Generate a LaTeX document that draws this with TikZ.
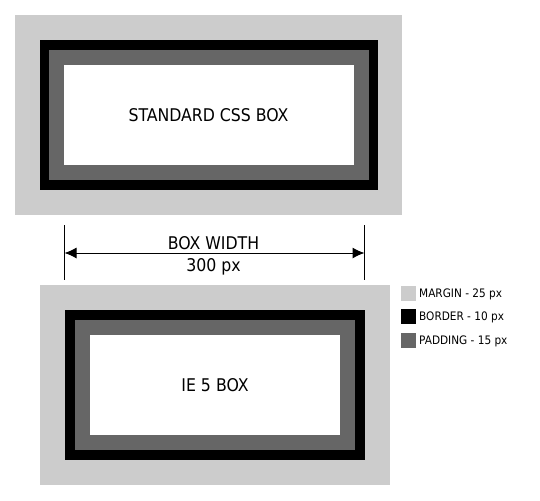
\documentclass[tikz,border=0pt]{standalone}
\usepackage{fontspec}
\setmainfont{DejaVu Sans Condensed}
\usepackage{xcolor}
\usepackage{tikz}
\usetikzlibrary{arrows.meta,positioning}
\definecolor{margingray}{RGB}{204,204,204}
\definecolor{paddinggray}{RGB}{102,102,102}
\tikzset{
  layer/.style={
    rectangle,
    inner sep=0pt,
    outer sep=0pt
  },
  marginbox/.style={layer, fill=margingray},
  borderbox/.style={layer, fill=black},
  paddingbox/.style={layer, fill=paddinggray},
  contentbox/.style={layer, fill=white, font=\fontsize{17.5}{20}\selectfont},
  swatch/.style={layer, minimum width=15pt, minimum height=15pt},
  legtext/.style={
    inner sep=0pt,
    font=\fontsize{11.7}{14}\selectfont,
    text height=8.5pt,
    text depth=0pt
  },
  dimlabel/.style={inner sep=0pt, anchor=base, font=\fontsize{17.5}{20}\selectfont},
  extline/.style={line width=1pt},
  dimarrow/.style={{Latex[length=12pt,width=11pt]}-{Latex[length=12pt,width=11pt]}, line width=1pt}
}
\begin{document}
\begin{tikzpicture}[x=1pt, y=-1pt, node distance=3pt]
  \useasboundingbox (0,0) rectangle (540,500);

  % standard box
  \node[marginbox, minimum width=387pt, minimum height=200pt] (sm) at (208.5,115) {};
  \node[borderbox, minimum width=338pt, minimum height=150pt] (sb) at (sm.center) {};
  \node[paddingbox, minimum width=320pt, minimum height=130pt] (sp) at (sm.center) {};
  \node[contentbox, minimum width=290pt, minimum height=100pt] (sc) at (sm.center) {STANDARD CSS BOX};

  % ie 5 box
  \node[marginbox, minimum width=350pt, minimum height=200pt] (im) at (215,385) {};
  \node[borderbox, minimum width=300pt, minimum height=150pt] (ib) at (im.center) {};
  \node[paddingbox, minimum width=280pt, minimum height=130pt] (ip) at (im.center) {};
  \node[contentbox, minimum width=250pt, minimum height=100pt] (ic) at (im.center) {IE 5 BOX};

  % box width
  \coordinate (lt) at (64.5,225);
  \coordinate (lb) at (64.5,280);
  \coordinate (rt) at (364.5,225);
  \coordinate (rb) at (364.5,280);
  \coordinate (al) at (64.5,253);
  \coordinate (ar) at (364.5,253);
  \draw[extline] (lt) -- (lb);
  \draw[extline] (rt) -- (rb);
  \draw[dimarrow] (al) -- (ar);
  \node[dimlabel] (bw) at (213.5,249.5) {BOX WIDTH};
  \node[dimlabel] (px) at (213.5,271.3) {300 px};

  % legend
  \node[swatch, fill=margingray] (lm) at (408.5,293.5) {};
  \node[swatch, fill=black] (lbd) at (408.5,316.5) {};
  \node[swatch, fill=paddinggray] (lp) at (408.5,340.5) {};
  \node[legtext, right=of lm] (tm) {MARGIN - 25 px};
  \node[legtext, right=of lbd] (tb) {BORDER - 10 px};
  \node[legtext, right=of lp] (tp) {PADDING - 15 px};
\end{tikzpicture}
\end{document}
